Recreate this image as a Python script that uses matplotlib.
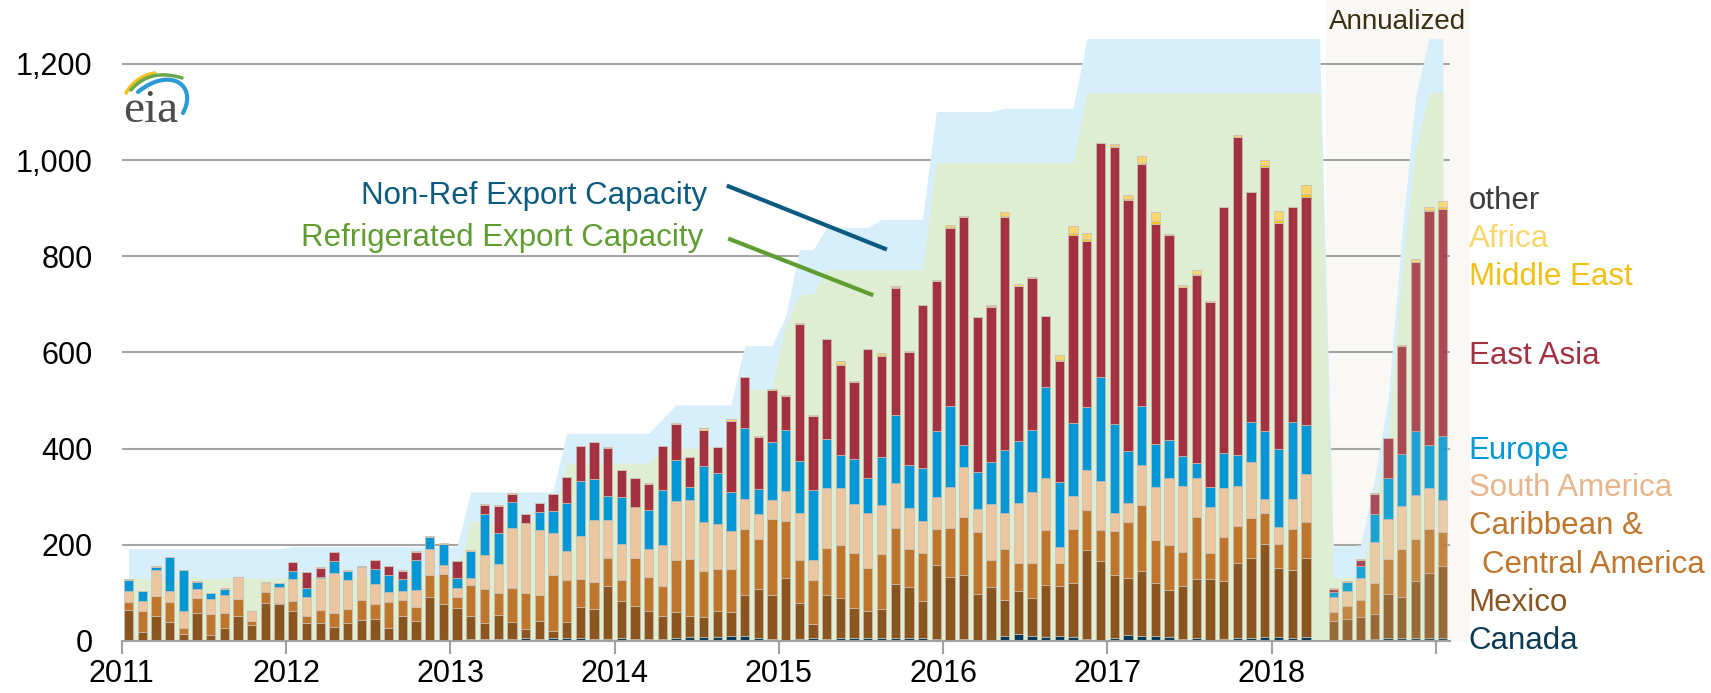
import numpy as np
import matplotlib.pyplot as plt
from matplotlib.patches import Rectangle

plt.rcParams['font.family'] = ['Liberation Sans', 'DejaVu Sans']

# monthly exports Jan 2011 - Mar 2018 (thousand b/d), by destination
canada = [2, 1, 1, 3, 1, 3, 1, 1, 1, 1, 1, 1,
          1, 1, 2, 1, 1, 2, 2, 1, 1, 1, 1, 1,
          3, 4, 4, 5, 4, 6, 5, 6, 7, 6, 5, 4,
          6, 5, 4, 4, 6, 9, 8, 9, 10, 11, 6, 4,
          3, 5, 6, 5, 6, 7, 7, 6, 7, 7, 6, 4,
          3, 4, 3, 3, 10, 14, 10, 9, 10, 8, 4, 3,
          6, 12, 10, 11, 8, 5, 6, 3, 5, 7, 7, 8,
          8, 7, 8]
mexico = [62, 18, 50, 37, 14, 55, 12, 27, 50, 33, 79, 75,
          62, 36, 35, 29, 36, 42, 43, 25, 51, 41, 90, 76,
          66, 48, 33, 50, 36, 19, 37, 15, 33, 65, 62, 110,
          77, 68, 59, 49, 54, 43, 42, 54, 51, 84, 103, 92,
          127, 74, 29, 90, 83, 61, 56, 61, 112, 105, 78, 155,
          130, 134, 95, 109, 75, 91, 80, 107, 104, 113, 185, 164,
          131, 119, 136, 109, 99, 109, 123, 126, 120, 155, 166, 193,
          143, 140, 164]
caribbean = [18, 43, 43, 41, 11, 32, 43, 31, 37, 8, 22, 3,
             21, 16, 28, 29, 30, 41, 31, 56, 34, 28, 46, 63,
             23, 64, 72, 45, 71, 75, 54, 116, 87, 57, 56, 58,
             43, 99, 71, 61, 109, 118, 95, 86, 89, 138, 103, 158,
             119, 89, 91, 98, 111, 114, 89, 113, 116, 80, 100, 73,
             102, 120, 128, 56, 106, 57, 72, 115, 48, 112, 84, 64,
             92, 117, 137, 91, 92, 71, 129, 55, 91, 78, 83, 66,
             50, 86, 75]
south_america = [23, 21, 53, 22, 37, 19, 32, 37, 45, 20, 19, 33,
                 44, 39, 66, 83, 60, 68, 42, 19, 19, 36, 54, 19,
                 19, 14, 69, 61, 125, 145, 134, 88, 60, 91, 128, 80,
                 76, 107, 57, 86, 122, 123, 103, 94, 79, 63, 53, 39,
                 63, 99, 42, 126, 119, 102, 115, 102, 93, 85, 65, 68,
                 86, 103, 48, 117, 75, 124, 147, 108, 33, 69, 82, 101,
                 37, 39, 82, 109, 139, 137, 82, 94, 103, 82, 116, 28,
                 37, 62, 101]
europe = [21, 20, 6, 71, 84, 13, 11, 13, 0, 0, 0, 8,
          17, 18, 2, 24, 19, 0, 32, 37, 23, 63, 25, 43,
          20, 57, 87, 64, 54, 0, 38, 45, 99, 114, 86, 50,
          97, 0, 81, 115, 85, 28, 115, 107, 80, 147, 52, 121,
          127, 108, 146, 102, 67, 94, 73, 100, 142, 90, 110, 136,
          168, 47, 77, 88, 132, 129, 129, 189, 136, 152, 132, 216,
          185, 108, 123, 90, 79, 62, 31, 43, 71, 65, 84, 141,
          162, 161, 102]
east_asia = [0, 0, 0, 0, 0, 0, 0, 0, 0, 0, 0, 0,
             19, 33, 18, 19, 0, 0, 18, 18, 18, 17, 0, 0,
             35, 0, 18, 56, 16, 19, 19, 35, 55, 72, 76, 100,
             56, 60, 55, 90, 75, 61, 76, 53, 149, 106, 108, 109,
             71, 285, 154, 206, 188, 161, 267, 211, 265, 233, 339, 313,
             369, 474, 322, 322, 483, 324, 316, 147, 251, 390, 345, 487,
             577, 522, 503, 457, 427, 352, 391, 385, 512, 662, 477, 550,
             470, 446, 473]
middle_east = [0, 0, 0, 0, 0, 0, 0, 0, 0, 0, 0, 0,
               0, 0, 0, 0, 0, 0, 0, 0, 0, 0, 0, 0,
               0, 0, 0, 0, 0, 0, 0, 0, 0, 0, 0, 0,
               0, 0, 0, 0, 0, 0, 0, 0, 0, 0, 0, 0,
               0, 0, 0, 0, 2, 0, 0, 1, 1, 1, 0, 0,
               2, 0, 0, 1, 3, 0, 0, 0, 3, 4, 4, 0,
               1, 3, 4, 6, 0, 1, 2, 0, 0, 0, 0, 3,
               6, 0, 6]
africa = [2, 1, 2, 1, 1, 2, 1, 1, 1, 0, 2, 1,
          1, 1, 2, 1, 1, 1, 1, 1, 1, 1, 2, 1,
          1, 2, 1, 1, 1, 1, 1, 1, 1, 1, 1, 1,
          1, 1, 1, 1, 2, 1, 4, 1, 3, 1, 1, 1,
          1, 2, 2, 2, 7, 1, 1, 4, 3, 3, 1, 1,
          5, 2, 1, 3, 9, 3, 2, 1, 9, 14, 12, 1,
          5, 8, 14, 19, 3, 3, 8, 1, 1, 3, 1, 11,
          19, 1, 20]
other = [0, 0, 0, 0, 0, 0, 0, 0, 0, 0, 0, 0,
         0, 0, 0, 0, 0, 3, 0, 0, 0, 0, 0, 0,
         0, 0, 0, 0, 0, 0, 0, 0, 0, 0, 0, 0,
         0, 0, 0, 0, 0, 0, 0, 0, 0, 0, 0, 0,
         0, 0, 0, 0, 0, 0, 0, 0, 0, 0, 0, 0,
         0, 0, 0, 0, 0, 0, 0, 0, 0, 0, 0, 0,
         0, 0, 0, 0, 0, 0, 0, 0, 0, 0, 0, 0,
         0, 0, 0]

# annualized bars (9 years, ending 2018)
canada_yr = [3, 3, 3, 5, 6, 6, 6, 6, 6]
mexico_yr = [38, 42, 47, 52, 92, 86, 118, 136, 150]
caribbean_yr = [20, 28, 35, 63, 73, 99, 88, 91, 70]
south_america_yr = [30, 30, 46, 86, 83, 89, 91, 86, 67]
europe_yr = [11, 20, 25, 58, 85, 109, 133, 89, 134]
east_asia_yr = [7, 0, 13, 42, 83, 224, 352, 486, 472]
middle_east_yr = [0, 0, 0, 0, 0, 0, 1, 2, 4]
africa_yr = [2, 1, 1, 1, 1, 2, 5, 6, 13]
other_yr = [0, 0, 0, 0, 0, 0, 0, 0, 0]

# export capacity, monthly Jan 2011 - Apr 2018 then the 9 annualized points
refrigerated_cap = [130, 130, 130, 130, 130, 130, 130, 130, 130, 130, 130, 130,
                    134, 134, 134, 134, 134, 134, 134, 134, 134, 134, 134, 134,
                    134, 249, 249, 249, 249, 249, 249, 249, 370, 370, 370, 370,
                    370, 370, 370, 401, 401, 401, 401, 401, 401, 523, 523, 523,
                    660, 721, 721, 772, 772, 772, 772, 772, 772, 772, 772, 995,
                    995, 995, 995, 995, 995, 995, 995, 995, 995, 995, 1140, 1140,
                    1140, 1140, 1140, 1140, 1140, 1140, 1140, 1140, 1140, 1140, 1140, 1140,
                    1140, 1140, 1140, 1140,
                    131, 131, 134, 275, 420, 760, 1020, 1141, 1141]
non_ref_cap = [62, 62, 62, 62, 62, 62, 62, 62, 62, 62, 62, 62,
               62, 62, 62, 62, 62, 62, 62, 62, 62, 62, 62, 62,
               62, 61, 61, 61, 61, 61, 61, 61, 62, 62, 62, 62,
               62, 62, 62, 61, 90, 90, 90, 90, 90, 91, 91, 91,
               15, 93, 93, 88, 88, 88, 88, 105, 105, 105, 105, 106,
               106, 106, 106, 106, 113, 113, 113, 113, 113, 113, 113, 113,
               113, 113, 113, 113, 113, 113, 113, 113, 113, 113, 113, 113,
               113, 113, 113, 113,
               66, 66, 66, 60, 80, 80, 110, 112, 112]

year_labels = ['2011', '2012', '2013', '2014', '2015', '2016', '2017', '2018', '']

series = [('Canada', canada, canada_yr, '#003a58'),
          ('Mexico', mexico, mexico_yr, '#8b5520'),
          ('Caribbean', caribbean, caribbean_yr, '#bf762c'),
          ('South America', south_america, south_america_yr, '#ebc6a0'),
          ('Europe', europe, europe_yr, '#0097d7'),
          ('East Asia', east_asia, east_asia_yr, '#a33140'),
          ('Middle East', middle_east, middle_east_yr, '#f4c21b'),
          ('Africa', africa, africa_yr, '#f9d66b'),
          ('other', other, other_yr, '#9a9a9a')]

fig = plt.figure(figsize=(17.11, 6.93), dpi=100)
# px: x=0 at 121.7, one month = 13.69 px ; y=0 at 641, 0.4808 px per unit
ax = fig.add_axes([121.7 / 1711, 52 / 693, 1327.9 / 1711, 641 / 693])

x_month = np.arange(len(canada)) + 0.5
x_year = np.arange(88, 88 + len(canada_yr)) + 0.5
x_cap = np.arange(len(refrigerated_cap)) + 0.5

# annualized background
ax.add_patch(Rectangle((87.97, 0), 10.55, 1400, facecolor='#faf8f5', edgecolor='none',
                       zorder=0.2, clip_on=False))

total_cap = np.array(refrigerated_cap) + np.array(non_ref_cap)
ax.fill_between(x_cap, 0, total_cap, color='#d6effb', lw=0, zorder=1)
ax.fill_between(x_cap, 0, refrigerated_cap, color='#dfeed3', lw=0, zorder=1.1)

bottom_m = np.zeros(len(canada))
bottom_y = np.zeros(len(canada_yr))
for name, vals, vals_yr, col in series:
    ax.bar(x_month, vals, bottom=bottom_m, width=0.68, color=col,
           edgecolor='#cbbfb3', linewidth=0.5, zorder=2)
    ax.bar(x_year, vals_yr, bottom=bottom_y, width=0.68, color=col, alpha=0.87,
           edgecolor='#cbbfb3', linewidth=0.5, zorder=2)
    bottom_m += np.array(vals)
    bottom_y += np.array(vals_yr)

ax.set_xlim(0, 97)
ax.set_ylim(0, 1333)
ax.set_axisbelow(True)
ax.yaxis.grid(True, color='#a5a5a5', lw=1.5)
for s in ['left', 'right', 'top']:
    ax.spines[s].set_visible(False)
ax.spines['bottom'].set_color('#a0a0a0')
ax.spines['bottom'].set_linewidth(1.5)
ax.spines['bottom'].set_zorder(3)

ax.set_yticks(range(0, 1201, 200))
ax.set_yticklabels([f'{v:,}' for v in range(0, 1201, 200)])
ax.set_xticks(range(0, 97, 12))
ax.set_xticklabels(year_labels)
ax.tick_params(axis='y', length=0, pad=21, labelsize=22)
ax.tick_params(axis='x', length=9, width=1.5, color='#a0a0a0', pad=4, labelsize=22)

# right side labels
labels = [('other', 915, '#3c3c3c', 98.4), ('Africa', 836, '#f9d66b', 98.4),
          ('Middle East', 756, '#f2c012', 98.4), ('East Asia', 593, '#a33140', 98.4),
          ('Europe', 396, '#0097d7', 98.4), ('South America', 318, '#e8b58a', 98.4),
          ('Caribbean &', 239, '#bf762c', 98.4), ('Central America', 158, '#bf762c', 99.4),
          ('Mexico', 79, '#8b5520', 98.4), ('Canada', -1, '#0b3a55', 98.4)]
for txt, yv, col, xv in labels:
    ax.text(xv, yv, txt, color=col, fontsize=22.5, va='center', ha='left', clip_on=False)

# capacity annotations
ax.text(42.76, 926, 'Non-Ref Export Capacity', ha='right', va='center',
        color='#0b5a80', fontsize=22.5)
ax.plot([44.2, 55.9], [947, 814], color='#0b5a80', lw=3, solid_capstyle='butt', zorder=4)
ax.text(42.5, 838, 'Refrigerated Export Capacity', ha='right', va='center',
        color='#5f9d31', fontsize=22.5)
ax.plot([44.3, 54.9], [837, 719], color='#5f9d31', lw=3, solid_capstyle='butt', zorder=4)

ax.text(93.2, 1287, 'Annualized', ha='center', va='center', color='#3a2f12',
        fontsize=20, clip_on=False)

# eia logo
lax = fig.add_axes([105 / 1711, 1 - 135 / 693, 100 / 1711, 75 / 693])
lax.set_xlim(105, 205)
lax.set_ylim(135, 60)
lax.axis('off')
lax.text(151, 122, 'eia', ha='center', va='baseline', fontsize=34,
         family=['Liberation Serif', 'DejaVu Serif'], color='#4d4d4d')
t = np.linspace(0, 1, 40)


def bez(pts):
    pts = np.array(pts, dtype=float)
    n = len(pts) - 1
    from math import comb
    out = np.zeros((len(t), 2))
    for k, p in enumerate(pts):
        out += np.outer(comb(n, k) * (1 - t) ** (n - k) * t ** k, p)
    return out


for pts, col, lw in [([(126, 93), (136, 76), (155, 73)], '#f2c01e', 2.5),
                     ([(131, 90), (150, 68), (182, 78)], '#6aa84f', 2.5),
                     ([(138, 92), (170, 66), (198, 85), (183, 113)], '#2b9ad6', 3)]:
    c = bez(pts)
    lax.plot(c[:, 0], c[:, 1], color=col, lw=lw, solid_capstyle='round')

fig.savefig('out.png', dpi=100)
